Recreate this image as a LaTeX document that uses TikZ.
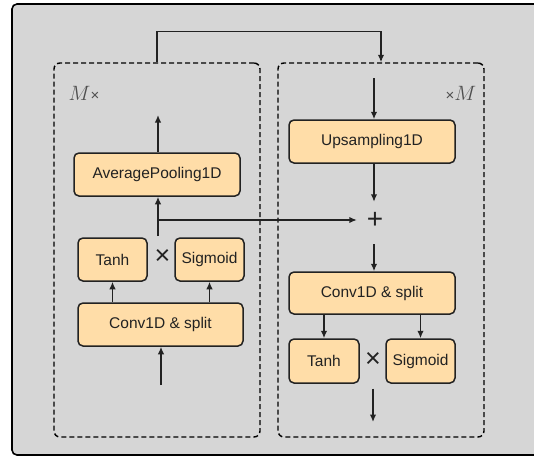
\documentclass[tikz,border=0pt]{standalone}
\usepackage{fontspec}
\setmainfont{Liberation Sans}
\usetikzlibrary{arrows.meta}
\definecolor{panelgray}{HTML}{D6D6D6}
\definecolor{blockfill}{HTML}{FFDDA8}
\definecolor{inkgray}{HTML}{222222}
\begin{document}
\begin{tikzpicture}[x = 1pt, y = -1pt,
		font = \fontsize{15.5}{18}\selectfont,
		>={Latex[length = 7.5pt, width = 6.5pt]},
		block/.style = {draw = inkgray, fill = blockfill, line width = 1.5pt, rounded corners = 5pt, inner sep = 0pt, text = inkgray},
		stage/.style = {draw = black, dashed, line width = 1.4pt, dash pattern = on 5pt off 3pt, rounded corners = 6pt, inner sep = 0pt, minimum width = 206pt, minimum height = 374pt},
		gate/.style = {text = inkgray, inner sep = 0pt, font = \fontsize{27}{27}\selectfont},
		tag/.style = {text = inkgray!80, inner sep = 0pt, font = \fontsize{20.74}{21}\selectfont},
		link/.style = {->, draw = inkgray, line width = 1.4pt}]
			\useasboundingbox (0, 0) rectangle (534, 458);
			\filldraw[fill = panelgray, draw = black, line width = 1.6pt, rounded corners = 5pt] (12, 4) rectangle (540, 455);
			
			% the two stages
			\node[stage] (enc) at (157, 250) {};
			\node[stage] (dec) at (381, 250) {};
			\node[tag] (repL) at (84, 93) {$M${\fontsize{15}{15}\selectfont×}};
			\node[tag] (repR) at (461, 93) {{\fontsize{15}{15}\selectfont×}$M$};
			
			% left stage
			\node[block, minimum width = 166pt, minimum height = 43pt] (ap) at (157, 174.5) {AveragePooling1D};
			\node[block, minimum width = 69pt, minimum height = 43pt] (tanhL) at (112.5, 259.5) {Tanh};
			\node[block, minimum width = 69pt, minimum height = 43pt] (sigL) at (209.5, 259.5) {Sigmoid};
			\node[block, minimum width = 165pt, minimum height = 43pt] (convL) at (160.5, 324.5) {Conv1D \& split};
			\node[gate] (timesL) at (162.5, 257) {×};
			\coordinate (inL) at (161, 385);
			\coordinate (outL) at (158, 115);
			\coordinate (prodL) at (158, 236);
			
			% right stage
			\node[block, minimum width = 166pt, minimum height = 43pt] (up) at (372, 141.5) {Upsampling1D};
			\node[circle, inner sep = 0pt, minimum size = 36pt, text = inkgray, font = \fontsize{28}{28}\selectfont] (plus) at (375, 220) {+};
			\node[block, minimum width = 166pt, minimum height = 42pt] (convR) at (372, 293) {Conv1D \& split};
			\node[block, minimum width = 70pt, minimum height = 44pt] (tanhR) at (324, 361) {Tanh};
			\node[block, minimum width = 69pt, minimum height = 44pt] (sigR) at (420.5, 361) {Sigmoid};
			\node[gate] (timesR) at (373, 360) {×};
			\coordinate (inR) at (374, 78);
			\coordinate (outR) at (373, 422);
			
			% connections
			\draw[link] (enc.north) -- ++(0, -31) -| (dec.north);
			\draw[link] (inL) -- (convL.south -| inL);
			\draw[link] (tanhL.south |- convL.north) -- (tanhL.south);
			\draw[link] (sigL.south |- convL.north) -- (sigL.south);
			\draw[link] (prodL) -- (ap.south -| prodL);
			\draw[link] (ap.north -| outL) -- (outL);
			\draw[link] (prodL |- plus) -- (plus);
			\draw[link] (inR) -- (up.north -| inR);
			\draw[link] (up.south -| inR) -- (plus.north -| inR);
			\draw[link, shorten < = 6pt] (plus.south -| inR) -- (convR.north -| inR);
			\draw[link] (convR.south -| tanhR.north) -- (tanhR.north);
			\draw[link] (convR.south -| sigR.north) -- (sigR.north);
			\draw[link, shorten < = 21pt] (timesR) -- (outR);
		\end{tikzpicture}
\end{document}
